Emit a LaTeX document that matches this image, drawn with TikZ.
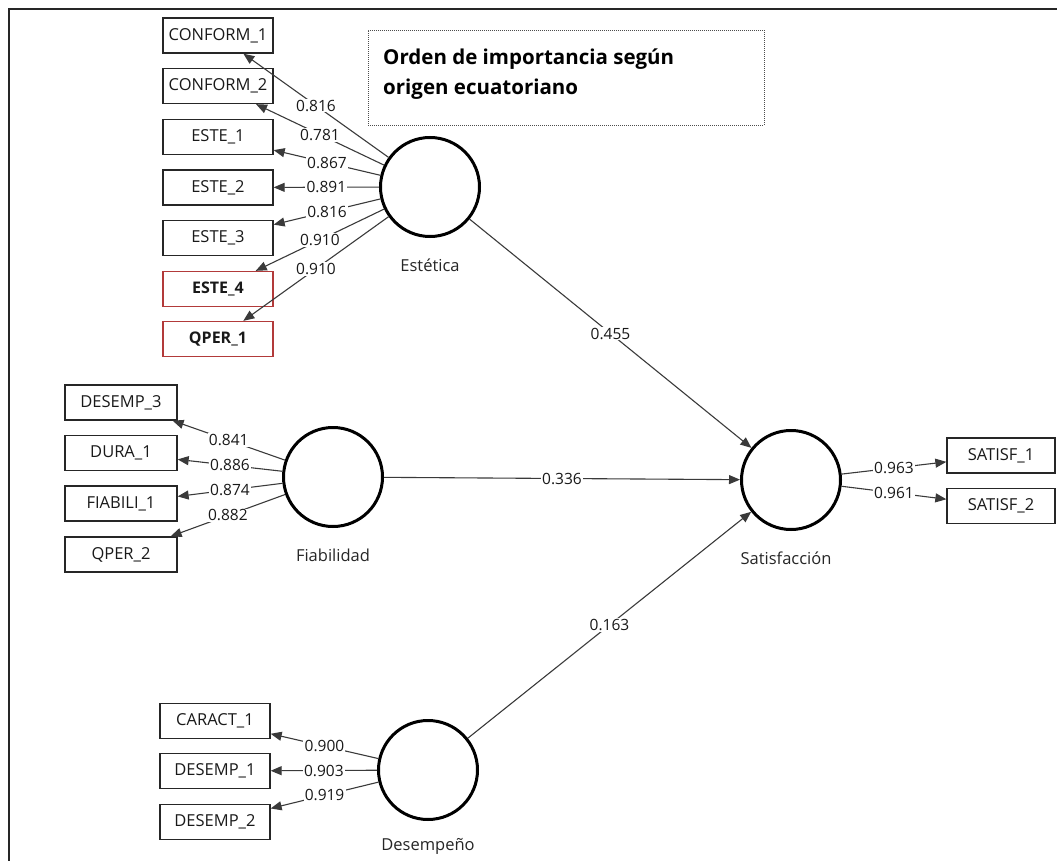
\documentclass[tikz,border=0pt]{standalone}
\usepackage{fontspec}
\setmainfont{Open Sans}
\usetikzlibrary{arrows.meta}
\definecolor{itemred}{HTML}{B23A3A}
\definecolor{linegray}{HTML}{3A3A3A}
\begin{document}
\begin{tikzpicture}[x=1pt,y=-1pt,
  lbl/.style={font=\fontsize{16.5}{19}\selectfont},
  item/.style={lbl,draw=black!85,line width=1.3pt,minimum height=35pt,inner sep=0pt,text=black!90},
  itemA/.style={item,minimum width=110pt},
  itemB/.style={item,minimum width=112pt},
  itemC/.style={item,minimum width=108pt},
  redbox/.style={draw=itemred,font=\fontsize{16}{19}\selectfont\bfseries},
  latent/.style={circle,draw=black,line width=3pt,minimum size=99pt,inner sep=0pt},
  lvname/.style={lbl,text=black!85},
  load/.style={draw=linegray,line width=1.1pt,-{Triangle[length=11pt,width=9pt]}},
  coef/.style={font=\fontsize{15.5}{18}\selectfont,fill=white,inner sep=1.2pt,text=black!90,midway},
  frameline/.style={draw=black!85,line width=2pt},
  titletext/.style={anchor=base west,inner sep=0pt,font=\fontsize{20.5}{24}\selectfont\bfseries}
]
\useasboundingbox (0,0) rectangle (1057,861);
% outer frame (top and left edges)
\draw[frameline] (9,861) -- (9,9) -- (1057,9);

% title box
\node[draw=black!70,dash pattern=on 1pt off 1pt,line width=0.8pt,minimum width=396pt,minimum height=95pt,inner sep=0pt]
  (titlebox) at (566,77.5) {};
\node[titletext] (title1) at (383,65) {Orden de importancia según};
\node[titletext] (title2) at (383,95) {origen ecuatoriano};

% latent variables
\node[latent] (est) at (430,187) {};
\node[lvname] (estL) at (430,265) {Estética};
\node[latent] (fia) at (333,477) {};
\node[lvname] (fiaL) at (333,555) {Fiabilidad};
\node[latent] (des) at (428,770) {};
\node[lvname] (desL) at (428,846) {Desempeño};
\node[latent] (sat) at (791,480) {};
\node[lvname] (satL) at (786,558) {Satisfacción};

% indicators of Estética
\node[itemA] (c1) at (218,35.5) {CONFORM\_1};
\node[itemA] (c2) at (218,86) {CONFORM\_2};
\node[itemA] (e1) at (218,137) {ESTE\_1};
\node[itemA] (e2) at (218,187.5) {ESTE\_2};
\node[itemA] (e3) at (218,238) {ESTE\_3};
\node[itemA,redbox] (e4) at (218,289) {ESTE\_4};
\node[itemA,redbox] (q1) at (218,339) {QPER\_1};

% indicators of Fiabilidad
\node[itemB] (d3) at (121,402.5) {DESEMP\_3};
\node[itemB] (du) at (121,453) {DURA\_1};
\node[itemB] (fi) at (121,503.5) {FIABILI\_1};
\node[itemB] (q2) at (121,554.5) {QPER\_2};

% indicators of Desempeño
\node[itemA] (ca) at (215,721) {CARACT\_1};
\node[itemA] (d1) at (215,771) {DESEMP\_1};
\node[itemA] (d2) at (215,822) {DESEMP\_2};

% indicators of Satisfacción
\node[itemC] (s1) at (1001,455.5) {SATISF\_1};
\node[itemC] (s2) at (1001,506) {SATISF\_2};

% outer loadings
\draw[load] (est) -- node[coef] {0.816} (c1);
\draw[load] (est) -- node[coef] {0.781} (c2);
\draw[load] (est) -- node[coef] {0.867} (e1);
\draw[load] (est) -- node[coef] {0.891} (e2);
\draw[load] (est) -- node[coef] {0.816} (e3);
\draw[load] (est) -- node[coef] {0.910} (e4);
\draw[load] (est) -- node[coef] {0.910} (q1);

\draw[load] (fia) -- node[coef] {0.841} (d3);
\draw[load] (fia) -- node[coef] {0.886} (du);
\draw[load] (fia) -- node[coef] {0.874} (fi);
\draw[load] (fia) -- node[coef] {0.882} (q2);

\draw[load] (des) -- node[coef] {0.900} (ca);
\draw[load] (des) -- node[coef] {0.903} (d1);
\draw[load] (des) -- node[coef] {0.919} (d2);

\draw[load] (sat) -- node[coef] {0.963} (s1);
\draw[load] (sat) -- node[coef] {0.961} (s2);

% path coefficients
\draw[load] (est) -- node[coef] {0.455} (sat);
\draw[load] (fia) -- node[coef] {0.336} (sat);
\draw[load] (des) -- node[coef] {0.163} (sat);
\end{tikzpicture}
\end{document}
